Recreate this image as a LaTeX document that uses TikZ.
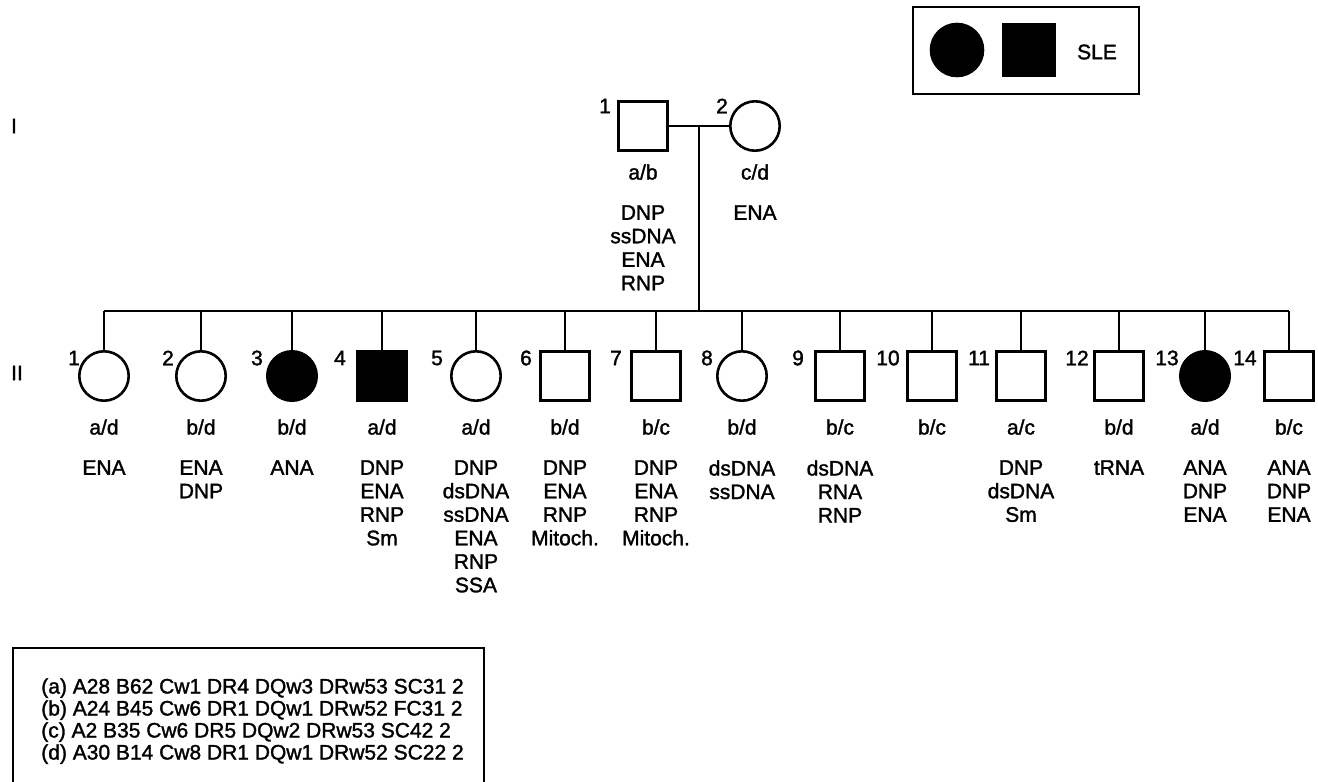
\documentclass[tikz,border=0pt]{standalone}
\usepackage{fontspec}
\setmainfont{Liberation Sans}[RawFeature={embolden=1.5}]
\usetikzlibrary{calc, positioning}

\begin{document}
\begin{tikzpicture}[x=0.5pt,y=-0.5pt,line width=1.3pt,
  every node/.style={font=\fontsize{10.5}{11.75}\selectfont},
  male/.style={draw, rectangle, minimum size=24.7pt, inner sep=0pt},
  female/.style={draw, circle, minimum size=24.7pt, inner sep=0pt},
  affmale/.style={male, fill=black},
  afffemale/.style={female, fill=black},
  num/.style={inner sep=0pt},
  txt/.style={align=center, inner sep=0pt, anchor=north}]
\useasboundingbox (0,0) rectangle (1318,782);

% generations
\node (genI) at (14,126) {I};
\node (genII) at (17,373) {II};

% parents
\node[male] (p1) at (643,126) {};
\node[female] (p2) at (755,126) {};
\node[num] (p1n) at (605,106) {1};
\node[num] (p2n) at (722,106) {2};
\node (p1g) at (643,172) {a/b};
\node (p2g) at (755,172) {c/d};
\node[txt] (p1a) at (643,204) {DNP\\ssDNA\\ENA\\RNP};
\node[txt] (p2a) at (755,204) {ENA};

\draw (p1.east) -- (p2.west) coordinate[pos=0.5] (mate);
\coordinate (sib) at ($(mate)+(0,185)$);
\draw (mate) -- (sib);

% children
\foreach \i/\x/\kind/\geno/\abs/\nx in {
  1/104/female/{a/d}/{ENA}/74,
  2/201/female/{b/d}/{ENA\\DNP}/168,
  3/292/afffemale/{b/d}/{ANA}/257,
  4/382/affmale/{a/d}/{DNP\\ENA\\RNP\\Sm}/340,
  5/476/female/{a/d}/{DNP\\dsDNA\\ssDNA\\ENA\\RNP\\SSA}/437,
  6/565/male/{b/d}/{DNP\\ENA\\RNP\\Mitoch.}/526,
  7/656/male/{b/c}/{DNP\\ENA\\RNP\\Mitoch.}/616,
  8/742/female/{b/d}/{dsDNA\\ssDNA}/707,
  9/840/male/{b/c}/{dsDNA\\RNA\\RNP}/798,
  10/932/male/{b/c}/{}/888,
  11/1021/male/{a/c}/{DNP\\dsDNA\\Sm}/979,
  12/1119/male/{b/d}/{tRNA}/1077,
  13/1205/afffemale/{a/d}/{ANA\\DNP\\ENA}/1167,
  14/1289/male/{b/c}/{ANA\\DNP\\ENA}/1245} {
  \node[\kind] (c\i) at (\x,376) {};
  \node[num] (c\i n) at (\nx,358) {\i};
  \node (c\i g) at (\x,427) {\geno};
  \node[txt] (c\i a) at (\x,459) {\abs};
  \draw (c\i |- sib) -- (c\i.north);
}
\draw (c1 |- sib) -- (c14 |- sib);

% key
\draw (913,7) rectangle (1139,94);
\node[afffemale, minimum size=26pt] (keyf) at (957,50) {};
\node[affmale, minimum size=25.5pt] (keym) at (1029,50) {};
\node (keyt) at (1097,52) {SLE};

% haplotypes
\draw (13,782) |- (484,648) -- (484,782);
\node[align=left, anchor=north west, inner sep=0pt,
  font=\fontsize{10.5}{11}\selectfont] (hla) at (40,677)
  {(a) A28 B62 Cw1 DR4 DQw3 DRw53 SC31 2\\
   (b) A24 B45 Cw6 DR1 DQw1 DRw52 FC31 2\\
   (c) A2 B35 Cw6 DR5 DQw2 DRw53 SC42 2\\
   (d) A30 B14 Cw8 DR1 DQw1 DRw52 SC22 2};
\end{tikzpicture}
\end{document}
